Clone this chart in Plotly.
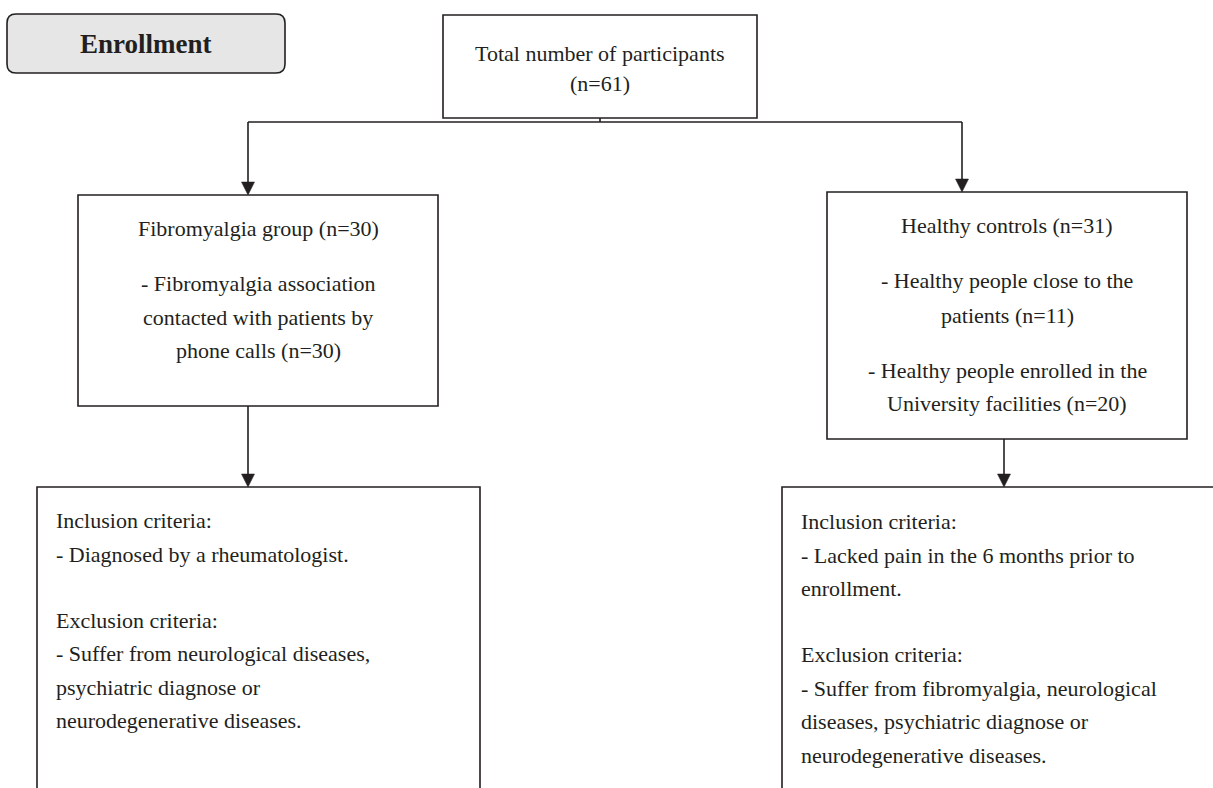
import plotly.graph_objects as go

W, H = 1213, 788
INK = "#231f20"
FONT = "Liberation Serif, Times New Roman, serif"

# ---- text content ----
enroll_label = "Enrollment"
total_lines = ["Total number of participants", "(n=61)"]
fibro_lines = ["Fibromyalgia group (n=30)", "- Fibromyalgia association",
               "contacted with patients by", "phone calls (n=30)"]
healthy_lines = ["Healthy controls (n=31)", "- Healthy people close to the",
                 "patients (n=11)", "- Healthy people enrolled in the",
                 "University facilities (n=20)"]
fibro_criteria = ["Inclusion criteria:", "- Diagnosed by a rheumatologist.",
                  "Exclusion criteria:", "- Suffer from neurological diseases,",
                  "psychiatric diagnose or", "neurodegenerative diseases."]
healthy_criteria = ["Inclusion criteria:", "- Lacked pain in the 6 months prior to",
                    "enrollment.", "Exclusion criteria:",
                    "- Suffer from fibromyalgia, neurological",
                    "diseases, psychiatric diagnose or",
                    "neurodegenerative diseases."]

# ---- layout geometry (pixels, y downward) ----
enroll_box = (7, 14, 285, 73)
total_box = (443, 15, 757, 118)
fibro_box = (78, 195, 438, 406)
healthy_box = (827, 192, 1187, 439)
fibro_crit_box = (37, 487, 480, 800)
healthy_crit_box = (782, 487, 1230, 800)
split_y = 122
left_x, right_x = 248, 962
left_down_x, right_down_x = 248, 1004

total_y = [53, 83]
fibro_y = [228, 283, 317, 350]
healthy_y = [225, 280, 315, 370, 403]
fibro_crit_y = [520, 554, 620, 653, 687, 720]
healthy_crit_y = [521, 555, 588, 654, 688, 721, 755]

fig = go.Figure()
shapes = []
annos = []

line = dict(color=INK, width=1.6)


def rect(b):
    shapes.append(dict(type="rect", x0=b[0], y0=b[1], x1=b[2], y1=b[3],
                       line=line, fillcolor="rgba(0,0,0,0)", layer="above"))


def open_box(b):
    x0, y0, x1, y1 = b
    shapes.append(dict(type="path", path=f"M {x0} {y1} L {x0} {y0} L {x1} {y0} L {x1} {y1}",
                       line=line, layer="above"))


def seg(x0, y0, x1, y1):
    shapes.append(dict(type="line", x0=x0, y0=y0, x1=x1, y1=y1, line=line))


def arrow_down(x, y0, y1):
    seg(x, y0, x, y1 - 10)
    hw, hh = 6.5, 13
    shapes.append(dict(type="path", path=f"M {x-hw} {y1-hh} L {x+hw} {y1-hh} L {x} {y1} Z",
                       fillcolor=INK, line=dict(color=INK, width=0.5)))


def text(x, y, s, anchor="center", size=22, bold=False):
    annos.append(dict(x=x, y=y, text=f"<b>{s}</b>" if bold else s, showarrow=False,
                      xanchor=anchor, yanchor="middle",
                      font=dict(family=FONT, size=size, color=INK)))


# Enrollment rounded box
x0, y0, x1, y1 = enroll_box
r = 9
shapes.append(dict(type="path",
                   path=(f"M {x0+r} {y0} L {x1-r} {y0} Q {x1} {y0} {x1} {y0+r} "
                         f"L {x1} {y1-r} Q {x1} {y1} {x1-r} {y1} L {x0+r} {y1} "
                         f"Q {x0} {y1} {x0} {y1-r} L {x0} {y0+r} Q {x0} {y0} {x0+r} {y0} Z"),
                   fillcolor="#e6e6e7", line=line))
text((x0 + x1) / 2, (y0 + y1) / 2, enroll_label, size=27, bold=True)

rect(total_box)
rect(fibro_box)
rect(healthy_box)
open_box(fibro_crit_box)
open_box(healthy_crit_box)

# connectors
seg((total_box[0] + total_box[2]) / 2, total_box[3], (total_box[0] + total_box[2]) / 2, split_y)
seg(left_x, split_y, right_x, split_y)
arrow_down(left_x, split_y, fibro_box[1])
arrow_down(right_x, split_y, healthy_box[1])
arrow_down(left_down_x, fibro_box[3], fibro_crit_box[1])
arrow_down(right_down_x, healthy_box[3], healthy_crit_box[1])

cx = (total_box[0] + total_box[2]) / 2
for s, y in zip(total_lines, total_y):
    text(cx, y, s)
cx = (fibro_box[0] + fibro_box[2]) / 2
for s, y in zip(fibro_lines, fibro_y):
    text(cx, y, s)
cx = (healthy_box[0] + healthy_box[2]) / 2
for s, y in zip(healthy_lines, healthy_y):
    text(cx, y, s)
for s, y in zip(fibro_criteria, fibro_crit_y):
    text(fibro_crit_box[0] + 17, y, s, anchor="left")
for s, y in zip(healthy_criteria, healthy_crit_y):
    text(healthy_crit_box[0] + 17, y, s, anchor="left")

fig.update_layout(
    width=W, height=H, margin=dict(l=0, r=0, t=0, b=0),
    paper_bgcolor="white", plot_bgcolor="white",
    xaxis=dict(range=[0, W], visible=False, fixedrange=True),
    yaxis=dict(range=[H, 0], visible=False, fixedrange=True),
    shapes=shapes, annotations=annos, showlegend=False,
)
fig.write_html("out.html", config={"displayModeBar": False},
               post_script="document.body.style.margin='0px';document.body.style.overflow='hidden';")
